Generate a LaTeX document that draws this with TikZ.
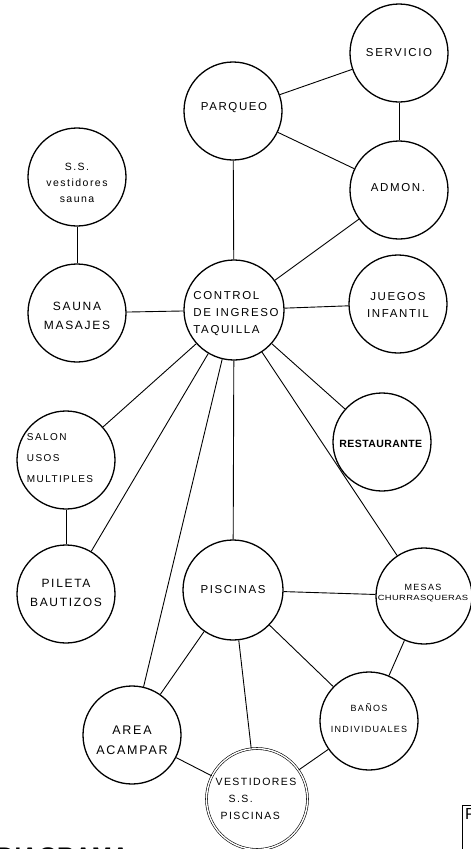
\documentclass[tikz,border=0pt]{standalone}
\usepackage{fontspec}
\usepackage{graphicx}
\setmainfont{Liberation Sans}
\newfontfamily\lbfont[LetterSpace=14]{Liberation Sans}
\newfontfamily\lbtight[LetterSpace=4]{Liberation Sans}
\begin{document}
\begin{tikzpicture}[x=1pt,y=-1pt,
  bub/.style={draw,circle,line width=1.3pt,minimum size=98pt,inner sep=0pt},
  dbub/.style={draw,circle,line width=0.6pt,double,double distance=1.4pt,minimum size=101pt,inner sep=0pt},
  lbl/.style={align=center,font=\lbfont\fontsize{11.5}{17}\selectfont,inner sep=0pt},
  con/.style={line width=0.9pt}]
\useasboundingbox (0,0) rectangle (471,849);
% circles
\node[bub] (serv) at (399,53) {};
\node[bub] (parq) at (233,111) {};
\node[bub] (admon) at (399,190) {};
\node[bub] (ssv) at (77,177) {};
\node[bub] (sauna) at (77,313) {};
\node[bub,minimum size=100pt] (ctrl) at (234,310) {};
\node[bub] (jueg) at (398,304) {};
\node[bub] (rest) at (382,442) {};
\node[bub] (salon) at (66,460) {};
\node[bub] (pil) at (66,594) {};
\node[bub,minimum size=100pt] (pisc) at (233,590) {};
\node[bub,minimum size=96pt] (mesas) at (424,596) {};
\node[bub] (banos) at (369,721) {};
\node[bub] (area) at (132,735) {};
\node[dbub] (vest) at (257,799) {};
% texts
\node[lbl] (tserv) at (399,53) {SERVICIO};
\node[lbl] (tparq) at (234,108) {PARQUEO};
\node[lbl] (tadmon) at (398,188) {ADMON.};
\node[lbl,font=\lbfont\fontsize{10.5}{16}\selectfont] (tssv) at (77,183) {S.S.\\vestidores\\sauna};
\node[lbl,font=\lbfont\fontsize{12}{19}\selectfont] (tsauna) at (77,316) {SAUNA\\MASAJES};
\node[lbl,align=left] (tctrl) at (236,314) {CONTROL\\DE INGRESO\\TAQUILLA};
\node[lbl] (tjueg) at (398,305) {JUEGOS\\INFANTIL};
\node[lbl,font=\lbtight\fontsize{10.5}{14}\selectfont] (trest) at (381,444) {\textbf{RESTAURANTE}};
\node[lbl,align=left,font=\lbfont\fontsize{10}{21}\selectfont] (tsalon) at (60,458) {SALON\\USOS\\MULTIPLES};
\node[lbl,font=\lbfont\fontsize{12}{19}\selectfont] (tpil) at (66,593) {PILETA\\BAUTIZOS};
\node[lbl] (tpisc) at (233,590) {PISCINAS};
\node[lbl,font=\lbfont\fontsize{9}{10}\selectfont] (tmesas) at (423,593) {MESAS\\{\lbtight\fontsize{7.5}{9}\selectfont\scalebox{1.25}[1]{CHURRASQUERAS}}};
\node[lbl,font=\lbfont\fontsize{9}{21}\selectfont] (tbanos) at (369,718) {BAÑOS\\INDIVIDUALES};
\node[lbl,font=\lbfont\fontsize{12.5}{20}\selectfont] (tarea) at (132,740) {AREA\\ACAMPAR};
\node[lbl,align=left,font=\lbfont\fontsize{10.5}{17}\selectfont] (tvest) at (256,799) {VESTIDORES\\\hspace*{13pt}S.S.\\\hspace*{5pt}PISCINAS};
% connectors
\draw[con] (serv) -- (parq);
\draw[con] (serv) -- (admon);
\draw[con] (parq) -- (admon);
\draw[con] (parq) -- (ctrl);
\draw[con] (admon) -- (ctrl);
\draw[con] (ssv) -- (sauna);
\draw[con] (sauna) -- (ctrl);
\draw[con] (ctrl) -- (jueg);
\draw[con] (ctrl) -- (rest);
\draw[con] (ctrl) -- (salon);
\draw[con] (salon) -- (pil);
\draw[con] (ctrl) -- (pil);
\draw[con] (ctrl) -- (area);
\draw[con] (ctrl) -- (pisc);
\draw[con] (ctrl) -- (mesas);
\draw[con] (pisc) -- (mesas);
\draw[con] (pisc) -- (area);
\draw[con] (pisc) -- (vest);
\draw[con] (pisc) -- (banos);
\draw[con] (mesas) -- (banos);
\draw[con] (area) -- (vest);
\draw[con] (banos) -- (vest);
% cut-off items at the bottom
\node[anchor=north west,inner sep=0pt,font=\fontsize{24}{24}\selectfont\bfseries] (diag) at (-3,848) {DIAGRAMA};
\node[draw,line width=0.8pt,anchor=north west,minimum width=40pt,minimum height=60pt,inner sep=2pt] (pbox) at (462,805) {};
\node[anchor=north west,inner sep=0pt,font=\fontsize{16}{16}\selectfont] (ptxt) at (465,808) {P};
\end{tikzpicture}
\end{document}
